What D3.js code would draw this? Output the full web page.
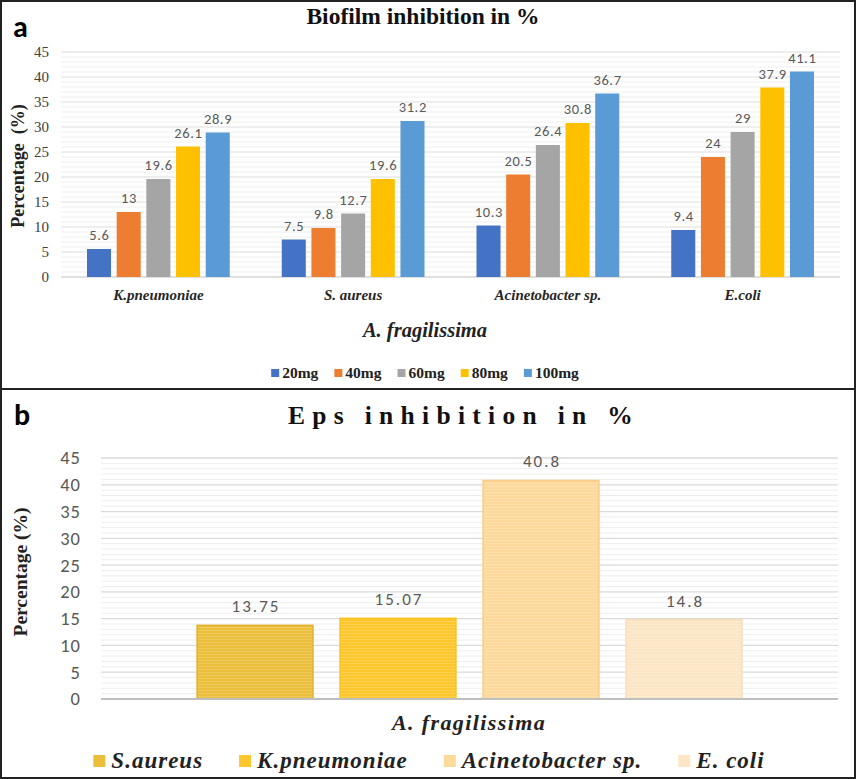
<!DOCTYPE html>
<html><head><meta charset="utf-8">
<script src="https://cdn.jsdelivr.net/npm/d3@7"></script>
<style>html,body{margin:0;padding:0;background:#fff;}svg{display:block;}</style>
</head><body>
<svg id="chart" width="856" height="779"></svg>
<script>
// ---------- DATA ----------
const bacteriaA = ["K.pneumoniae", "S. aureus", "Acinetobacter sp.", "E.coli"];
const doses = ["20mg", "40mg", "60mg", "80mg", "100mg"];
const dose20 = [5.6, 7.5, 10.3, 9.4];
const dose40 = [13, 9.8, 20.5, 24];
const dose60 = [19.6, 12.7, 26.4, 29];
const dose80 = [26.1, 19.6, 30.8, 37.9];
const dose100 = [28.9, 31.2, 36.7, 41.1];
const doseColors = ["#4472C4", "#ED7D31", "#A5A5A5", "#FFC000", "#5B9BD5"];

const bacteriaB = ["S.aureus", "K.pneumoniae", "Acinetobacter sp.", "E. coli"];
const epsValues = [13.75, 15.07, 40.8, 14.8];
const epsLabels = ["13.75", "15.07", "40.8", "14.8"];
const epsColors = ["#EBBE3C", "#FFC72C", "#FDD99C", "#FDE6C6"];
const epsStroke = ["#E2B12A", "#FBC021", "#FBCB85", "#FBDDB5"];

const yTicks = [0, 5, 10, 15, 20, 25, 30, 35, 40, 45];
const yMinor = d3.range(0, 46, 1);

const SERIF = "Liberation Serif";
const SANS = "Carlito";
const svg = d3.select("#chart");

svg.append("rect").attr("width", 856).attr("height", 779).attr("fill", "#fff");

const defs = svg.append("defs");
epsColors.forEach((c, i) => {
  const p = defs.append("pattern").attr("id", "pat" + i).attr("patternUnits", "userSpaceOnUse")
    .attr("width", 8).attr("height", 3);
  p.append("rect").attr("width", 8).attr("height", 3).attr("fill", c);
  p.append("rect").attr("y", 0).attr("width", 8).attr("height", 1).attr("fill", "#fff").attr("opacity", 0.18);
});

function txt(g, family, size, weight, style) {
  return g.append("text").attr("font-family", family).attr("font-size", size)
    .attr("font-weight", weight || "normal").attr("font-style", style || "normal");
}

// ================= PANEL A =================
const gA = svg.append("g");
const yA = d3.scaleLinear().domain([0, 45]).range([277, 52]);
const x0A = d3.scaleBand().domain(bacteriaA).range([61, 840]).paddingInner(0.267).paddingOuter(0.1335);
const x1A = d3.scaleBand().domain(doses).range([0, x0A.bandwidth()]).paddingInner(0.19).paddingOuter(0);
const seriesA = [dose20, dose40, dose60, dose80, dose100];

gA.append("g").selectAll("line").data(yMinor.filter(v => v % 5 !== 0)).join("line")
  .attr("x1", 61).attr("x2", 840).attr("y1", d => yA(d)).attr("y2", d => yA(d))
  .attr("stroke", "#EFEFEF").attr("stroke-width", 1);
gA.append("g").selectAll("line").data(yTicks.filter(v => v > 0)).join("line")
  .attr("x1", 61).attr("x2", 840).attr("y1", d => yA(d)).attr("y2", d => yA(d))
  .attr("stroke", "#DDDDDD").attr("stroke-width", 1.2);
gA.append("line").attr("x1", 61).attr("x2", 840).attr("y1", yA(0)).attr("y2", yA(0))
  .attr("stroke", "#D6D6D6").attr("stroke-width", 1.5);

const yAxisA = gA.append("g").attr("transform", "translate(49,0)")
  .call(d3.axisLeft(yA).tickValues(yTicks).tickSize(0).tickPadding(0));
yAxisA.select(".domain").remove();
yAxisA.attr("font-family", SERIF).attr("font-size", 15);
yAxisA.selectAll("text").attr("fill", "#404040");

seriesA.forEach((vals, si) => {
  const g = gA.append("g");
  g.selectAll("rect").data(vals).join("rect")
    .attr("x", (d, i) => x0A(bacteriaA[i]) + x1A(doses[si]))
    .attr("y", d => yA(d)).attr("width", x1A.bandwidth())
    .attr("height", d => yA(0) - yA(d)).attr("fill", doseColors[si]);
  g.selectAll("text").data(vals).join("text")
    .attr("x", (d, i) => x0A(bacteriaA[i]) + x1A(doses[si]) + x1A.bandwidth() / 2 + 0.3)
    .attr("y", d => yA(d) - 9).attr("text-anchor", "middle")
    .attr("font-family", SANS).attr("font-size", 14.5).attr("letter-spacing", 0.6).attr("fill", "#595959")
    .text(d => d);
});

gA.append("g").selectAll("text").data(bacteriaA).join("text")
  .attr("x", d => x0A(d) + x0A.bandwidth() / 2).attr("y", 300)
  .attr("text-anchor", "middle").attr("font-family", SERIF).attr("font-size", 15)
  .attr("font-weight", "bold").attr("font-style", "italic").attr("fill", "#262626").text(d => d);

txt(gA, SERIF, 23.5, "bold").attr("x", 423).attr("y", 24).attr("text-anchor", "middle")
  .attr("fill", "#111").text("Biofilm inhibition in %");
txt(gA, SERIF, 20.5, "bold", "italic").attr("x", 425).attr("y", 337).attr("text-anchor", "middle")
  .attr("fill", "#222").text("A. fragilissima");
txt(gA, SERIF, 18, "bold").attr("transform", "translate(24,166) rotate(-90)").attr("text-anchor", "middle")
  .attr("fill", "#222").attr("xml:space", "preserve").text("Percentage  (%)");
txt(gA, SANS, 30, "bold").attr("x", 13).attr("y", 37).attr("fill", "#000").text("a");

(function () {
  const lg = gA.append("g");
  let x = 0;
  doses.forEach((d, i) => {
    const it = lg.append("g").attr("transform", `translate(${x},0)`);
    it.append("rect").attr("x", 0).attr("y", -4).attr("width", 8).attr("height", 8).attr("fill", doseColors[i]);
    const t = txt(it, SERIF, 15.5, "bold").attr("x", 11).attr("y", 5).attr("fill", "#222").text(d);
    x += 11 + t.node().getComputedTextLength() + 16;
  });
  const w = x - 16;
  lg.attr("transform", `translate(${425 - w / 2},373)`);
})();

// ================= PANEL B =================
const gB = svg.append("g");
const yB = d3.scaleLinear().domain([0, 45]).range([699, 458]);
const xB = d3.scaleBand().domain(bacteriaB).range([101, 838]).paddingInner(0.19).paddingOuter(0.672);

gB.append("g").selectAll("line").data(yMinor.filter(v => v % 5 !== 0)).join("line")
  .attr("x1", 101).attr("x2", 838).attr("y1", d => yB(d)).attr("y2", d => yB(d))
  .attr("stroke", "#EEEEEE").attr("stroke-width", 1);
gB.append("g").selectAll("line").data(yTicks.filter(v => v > 0)).join("line")
  .attr("x1", 101).attr("x2", 838).attr("y1", d => yB(d)).attr("y2", d => yB(d))
  .attr("stroke", "#DADADA").attr("stroke-width", 1.3);

const yAxisB = gB.append("g").attr("transform", "translate(81,0)")
  .call(d3.axisLeft(yB).tickValues(yTicks).tickSize(0).tickPadding(0));
yAxisB.select(".domain").remove();
yAxisB.attr("font-family", SANS).attr("font-size", 18.5);
yAxisB.selectAll("text").attr("fill", "#595959").attr("letter-spacing", 1);

gB.append("g").selectAll("rect").data(epsValues).join("rect")
  .attr("x", (d, i) => xB(bacteriaB[i])).attr("y", d => yB(d))
  .attr("width", xB.bandwidth()).attr("height", d => yB(0) - yB(d))
  .attr("fill", (d, i) => `url(#pat${i})`).attr("stroke", (d, i) => epsStroke[i]).attr("stroke-width", 1.5);

gB.append("line").attr("x1", 101).attr("x2", 838).attr("y1", yB(0)).attr("y2", yB(0))
  .attr("stroke", "#BFBFBF").attr("stroke-width", 2);

gB.append("g").selectAll("text").data(epsValues).join("text")
  .attr("x", (d, i) => xB(bacteriaB[i]) + xB.bandwidth() / 2 + 1).attr("y", d => yB(d) - 13)
  .attr("text-anchor", "middle").attr("font-family", SANS).attr("font-size", 17)
  .attr("letter-spacing", 2).attr("fill", "#595959").text((d, i) => epsLabels[i]);

txt(gB, SERIF, 25.5, "bold").attr("x", 464).attr("y", 424).attr("text-anchor", "middle")
  .attr("letter-spacing", 7.3).attr("fill", "#111").text("Eps inhibition in %");
txt(gB, SERIF, 22, "bold", "italic").attr("x", 469).attr("y", 730).attr("text-anchor", "middle")
  .attr("letter-spacing", 1.4).attr("fill", "#222").text("A. fragilissima");
txt(gB, SERIF, 19.5, "bold").attr("transform", "translate(27,572) rotate(-90)").attr("text-anchor", "middle")
  .attr("fill", "#222").text("Percentage (%)");
txt(gB, SANS, 30, "bold").attr("x", 14).attr("y", 425).attr("fill", "#000").text("b");

(function () {
  const lg = gB.append("g");
  let x = 0;
  bacteriaB.forEach((d, i) => {
    const it = lg.append("g").attr("transform", `translate(${x},0)`);
    it.append("rect").attr("x", 0).attr("y", -6).attr("width", 12).attr("height", 12).attr("fill", epsColors[i]);
    const t = txt(it, SERIF, 23, "bold", "italic").attr("x", 18).attr("y", 7)
      .attr("letter-spacing", 1).attr("fill", "#222").text(d);
    x += 18 + t.node().getComputedTextLength() + 36;
  });
  const w = x - 36;
  lg.attr("transform", `translate(${429 - w / 2},761)`);
})();

svg.append("rect").attr("x", 1).attr("y", 1).attr("width", 854).attr("height", 777)
  .attr("fill", "none").attr("stroke", "#222").attr("stroke-width", 2);
svg.append("line").attr("x1", 0).attr("x2", 856).attr("y1", 389).attr("y2", 389)
  .attr("stroke", "#222").attr("stroke-width", 2);
</script>
</body></html>
